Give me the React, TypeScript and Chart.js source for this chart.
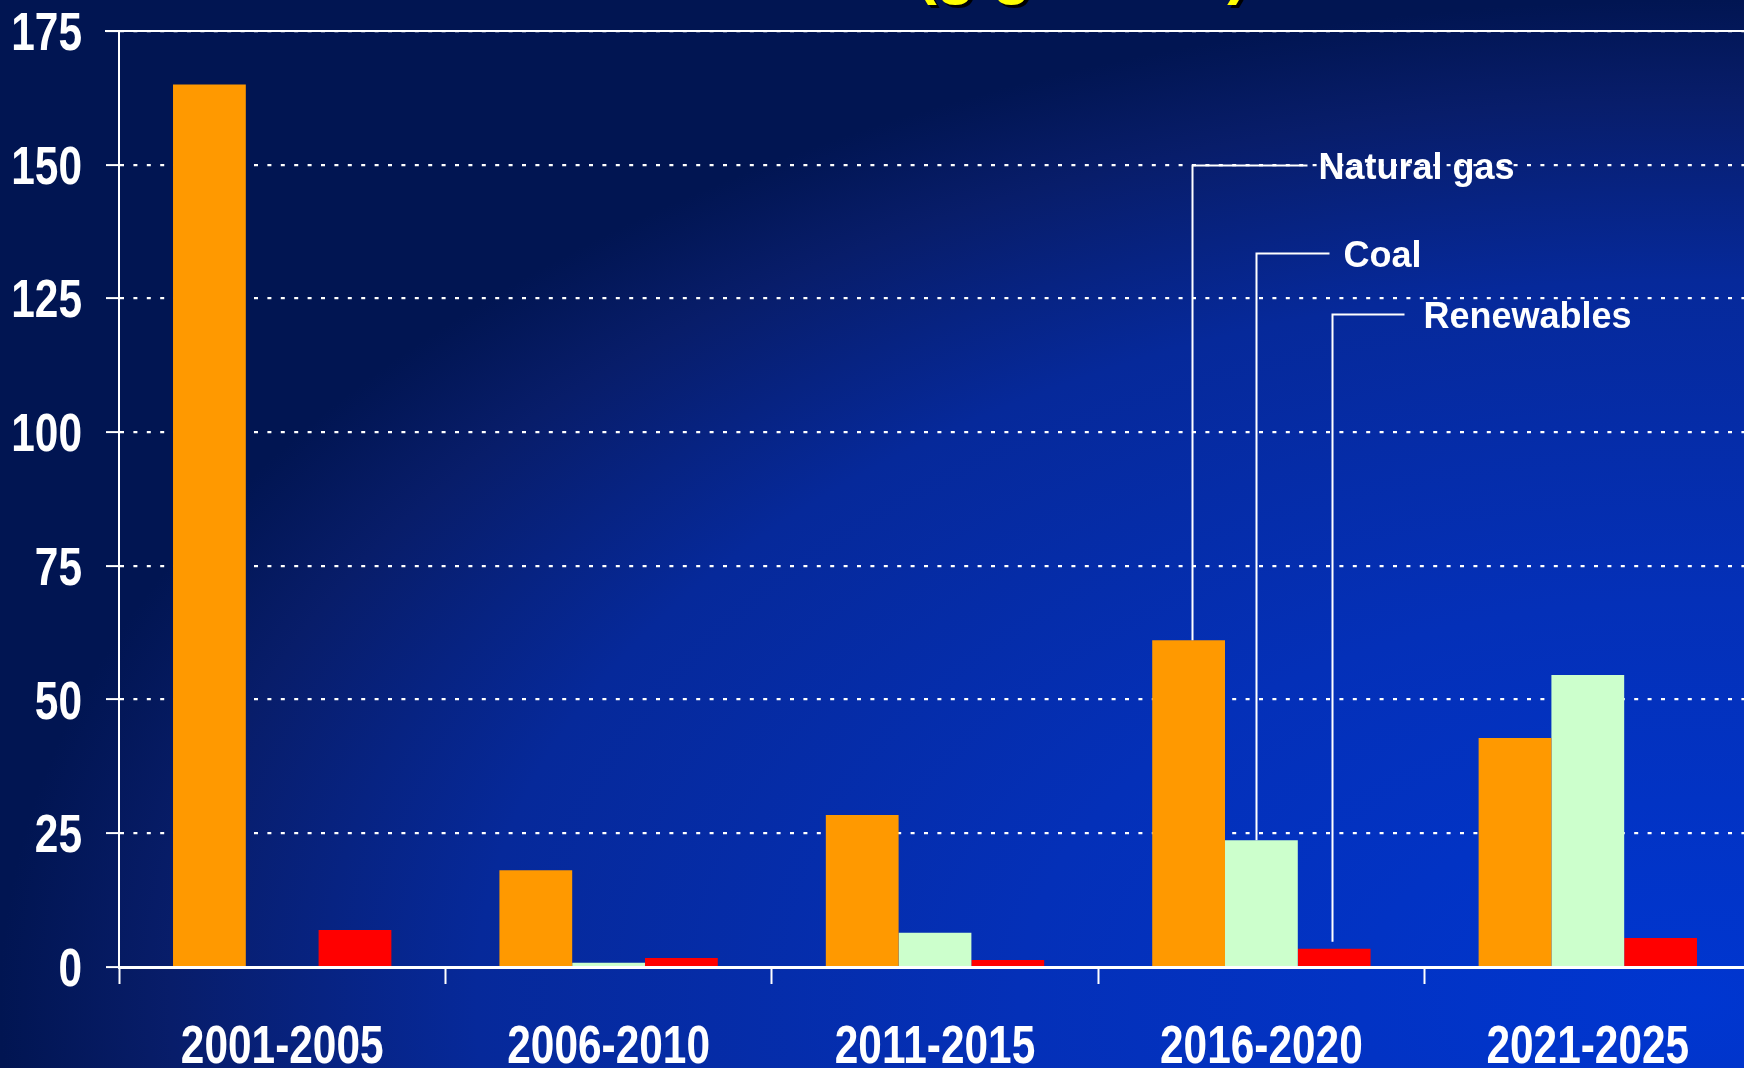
import React, { useEffect, useRef } from "react";
import { Chart, registerables } from "chart.js";

Chart.register(...registerables);

// ---- data ----
const categories = ["2001-2005", "2006-2010", "2011-2015", "2016-2020", "2021-2025"];
const naturalGas = [165, 18.1, 28.4, 61.1, 42.8];
const coal = [0, 0.8, 6.4, 23.7, 54.6];
const renewables = [6.9, 1.7, 1.3, 3.4, 5.4];
const yTickValues = [0, 25, 50, 75, 100, 125, 150, 175];
const seriesNames = ["Natural gas", "Coal", "Renewables"];
const calloutLevels = [150, 133.5, 122];
const calloutCategory = "2016-2020";
const titleText = "(gigawatts)";

const SANS = "'Liberation Sans', Arial, Helvetica, sans-serif";
const TICK_SIZE = 53;
const CONDENSE = 0.8;

function drawCondensed(ctx: CanvasRenderingContext2D, text: string, x: number, y: number, align: CanvasTextAlign) {
  ctx.save();
  ctx.translate(x, y);
  ctx.scale(CONDENSE, 1);
  ctx.textAlign = align;
  ctx.textBaseline = "alphabetic";
  ctx.fillText(text, 0, 0);
  ctx.restore();
}

const overlayPlugin = {
  id: "overlay",
  afterDraw(chart: any) {
    const ctx = chart.ctx as CanvasRenderingContext2D;
    const { left, right, bottom } = chart.chartArea;
    const ys = chart.scales.y;
    const xs = chart.scales.x;
    ctx.save();

    // solid frame line at the top value
    const yTop = ys.getPixelForValue(yTickValues[yTickValues.length - 1]);
    ctx.strokeStyle = "#ffffff";
    ctx.lineWidth = 2;
    ctx.beginPath();
    ctx.moveTo(left - 14, yTop);
    ctx.lineTo(right, yTop);
    ctx.stroke();

    // tick labels (condensed bold)
    ctx.fillStyle = "#ffffff";
    ctx.font = `bold ${TICK_SIZE}px ${SANS}`;
    ys.ticks.forEach((t: any) => {
      const y = ys.getPixelForValue(t.value);
      drawCondensed(ctx, String(t.value), left - 37, y + 19, "right");
    });
    xs.ticks.forEach((t: any, i: number) => {
      const x = xs.getPixelForTick(i);
      const label = categories[t.value] ?? String(t.label);
      drawCondensed(ctx, label, x, bottom + 96, "center");
    });

    // title (mostly above the visible area)
    ctx.font = `bold 63px ${SANS}`;
    ctx.textAlign = "center";
    ctx.textBaseline = "alphabetic";
    ctx.fillStyle = "#000000";
    ctx.fillText(titleText, 1085, -5);
    ctx.fillStyle = "#ffff00";
    ctx.fillText(titleText, 1082, -8);

    // callouts
    const idx = categories.indexOf(calloutCategory);
    const xOffsets = [3, -5, -2];
    const arms = [115, 73, 72];
    const gaps = [11, 14, 19];
    const bottomGaps = [0, 0, 7];
    ctx.strokeStyle = "#ffffff";
    ctx.lineWidth = 2;
    ctx.fillStyle = "#ffffff";
    ctx.font = `bold 36px ${SANS}`;
    ctx.textAlign = "left";
    ctx.textBaseline = "alphabetic";
    for (let i = 0; i < 3; i++) {
      const bar = chart.getDatasetMeta(i).data[idx];
      const bx = Math.round(bar.x + xOffsets[i]) + 0.5;
      const by = bar.y - bottomGaps[i];
      const ly = Math.round(ys.getPixelForValue(calloutLevels[i])) + 0.5;
      ctx.beginPath();
      ctx.moveTo(bx, by);
      ctx.lineTo(bx, ly);
      ctx.lineTo(bx + arms[i], ly);
      ctx.stroke();
      ctx.fillText(seriesNames[i], bx + arms[i] + gaps[i], ly + 13);
    }
    ctx.restore();
  },
};

export default function App() {
  const ref = useRef<HTMLCanvasElement | null>(null);

  useEffect(() => {
    if (!ref.current) return;
    const chart = new Chart(ref.current, {
      type: "bar",
      data: {
        labels: categories,
        datasets: [
          { label: seriesNames[0], data: naturalGas, backgroundColor: "#ff9900" },
          { label: seriesNames[1], data: coal, backgroundColor: "#ccffcc" },
          { label: seriesNames[2], data: renewables, backgroundColor: "#ff0000" },
        ],
      },
      options: {
        responsive: false,
        animation: false,
        devicePixelRatio: 1,
        layout: { padding: { top: 31, right: 9, left: 0, bottom: 0 } },
        datasets: {
          bar: { barPercentage: 1, categoryPercentage: 0.669, borderWidth: 0 },
        },
        plugins: {
          legend: { display: false },
          tooltip: { enabled: false },
          title: { display: false },
        },
        scales: {
          x: {
            type: "category",
            offset: true,
            grid: {
              offset: true,
              drawOnChartArea: false,
              drawTicks: true,
              tickLength: 17,
              tickColor: "#ffffff",
              tickWidth: 2,
            },
            border: { display: true, color: "#ffffff", width: 3 },
            ticks: { display: false, autoSkip: false, maxRotation: 0 },
            afterFit: (s: any) => {
              s.height = 101;
            },
          },
          y: {
            min: 0,
            max: 175,
            afterBuildTicks: (s: any) => {
              s.ticks = yTickValues.map((v) => ({ value: v }));
            },
            grid: {
              color: "#ffffff",
              lineWidth: 2.2,
              drawTicks: true,
              tickLength: 13,
              tickColor: "#ffffff",
              tickWidth: 2,
            },
            border: { display: true, color: "#ffffff", width: 2, dash: [4, 9.4] },
            ticks: { display: false },
            afterFit: (s: any) => {
              s.width = 119;
            },
          },
        },
      },
      plugins: [overlayPlugin],
    });
    return () => chart.destroy();
  }, []);

  return (
    <div
      style={{
        position: "fixed",
        left: 0,
        top: 0,
        width: 1744,
        height: 1068,
        overflow: "hidden",
        background:
          "radial-gradient(1700px 1000px at 1700px 1000px, #0036d0 0%, #0430b8 40%, #06299a 72%, #081d6a 90%, #011552 100%)",
      }}
    >
      <canvas ref={ref} width={1760} height={1068} style={{ display: "block", width: 1760, height: 1068 }} />
    </div>
  );
}
